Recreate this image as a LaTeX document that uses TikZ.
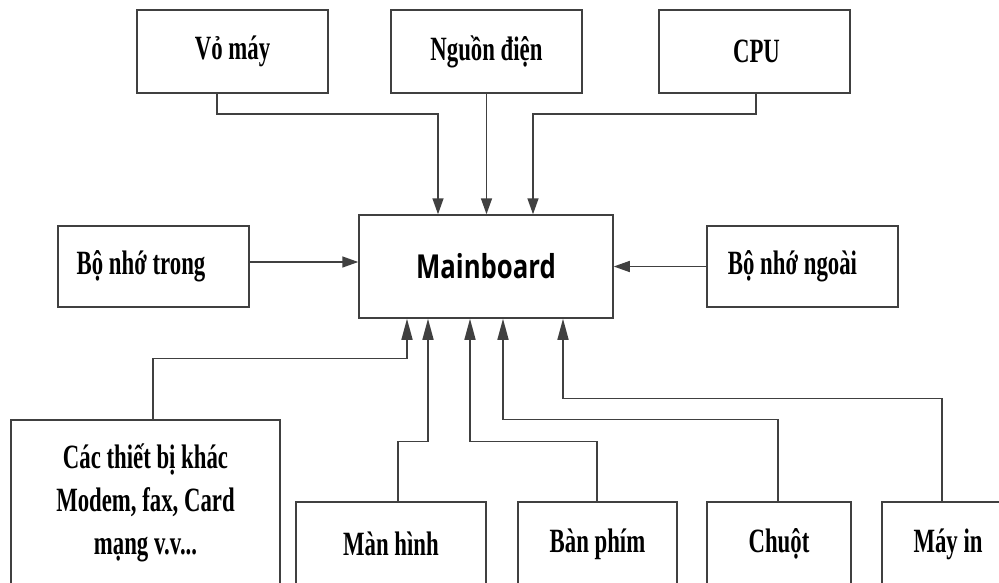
\documentclass[tikz,border=0pt]{standalone}
\usepackage{fontspec}
\setmainfont{Liberation Serif}
\newfontfamily\tnr[FakeStretch=0.67]{Liberation Serif}
\newfontfamily\mbfont[FakeStretch=0.78]{Open Sans}
\usetikzlibrary{arrows.meta}
\begin{document}
\begin{tikzpicture}[x=1pt,y=-1pt,
  box/.style={draw=black!75, line width=1.5pt, inner sep=0pt, align=center,
    font=\tnr\bfseries\fontsize{34}{43}\selectfont},
  conn/.style={draw=black!75, line width=1.5pt, -{Triangle[length=16pt,width=11pt]}},
  upconn/.style={draw=black!75, line width=1.5pt, -{Triangle[length=21pt,width=11pt]}}]
\useasboundingbox (0,0) rectangle (999,582);
\clip (0,0) rectangle (999,582);
\fill[white] (0,0) rectangle (999,582);
% top row
\node[box, minimum width=191pt, minimum height=83pt] (vo) at (232.5,51.5) {Vỏ máy};
\node[box, minimum width=191pt, minimum height=83pt] (nguon) at (486.5,51.5) {Nguồn điện};
\node[box, minimum width=191pt, minimum height=83pt] (cpu) at (754.5,51.5) {CPU\hspace*{-4pt}};
% middle row
\node[box, minimum width=254pt, minimum height=103pt, font=\mbfont\bfseries\fontsize{33}{36}\selectfont] (main) at (486,266.5) {Mainboard};
\node[box, minimum width=191pt, minimum height=81pt] (bnt) at (153.5,266.5) {Bộ nhớ trong\hspace*{25pt}};
\node[box, minimum width=191pt, minimum height=81pt] (bnn) at (802.5,266.5) {Bộ nhớ ngoài\hspace*{20pt}};
% bottom row
\node[box, minimum width=269pt, minimum height=166pt] (khac) at (145.5,503) {Các thiết bị khác\\Modem, fax, Card\\mạng v.v...};
\node[box, minimum width=190pt, minimum height=84pt] (man) at (391,544) {Màn hình};
\node[box, minimum width=159pt, minimum height=84pt] (ban) at (597.5,544) {Bàn phím};
\node[box, minimum width=144pt, minimum height=84pt] (chuot) at (779,544) {Chuột};
\node[box, minimum width=132pt, minimum height=84pt] (mayin) at (948,544) {Máy in};
% connectors from top
\draw[conn] ([xshift=-15.5pt]vo.south) -- ++(0,20) -| ([xshift=-48pt]main.north);
\draw[conn] (nguon.south) -- (nguon.south |- main.north);
\draw[conn] ([xshift=1.5pt]cpu.south) -- ++(0,20) -| ([xshift=47pt]main.north);
% side connectors
\draw[conn] ([yshift=4.5pt]bnt.east) -- ([yshift=4.5pt]bnt.east -| main.west);
\draw[conn] (bnn.west) -- (bnn.west -| main.east);
% bottom connectors
\draw[upconn] ([xshift=7.5pt]khac.north) -- ++(0,-61) -| ([xshift=-79pt]main.south);
\draw[upconn] ([xshift=7pt]man.north) -- ++(0,-60) -| ([xshift=-58pt]main.south);
\draw[upconn] ([xshift=-0.5pt]ban.north) -- ++(0,-60) -| ([xshift=-16pt]main.south);
\draw[upconn] ([xshift=-1pt]chuot.north) -- ++(0,-82) -| ([xshift=17pt]main.south);
\draw[upconn] ([xshift=-6pt]mayin.north) -- ++(0,-103) -| ([xshift=77pt]main.south);
\end{tikzpicture}
\end{document}
